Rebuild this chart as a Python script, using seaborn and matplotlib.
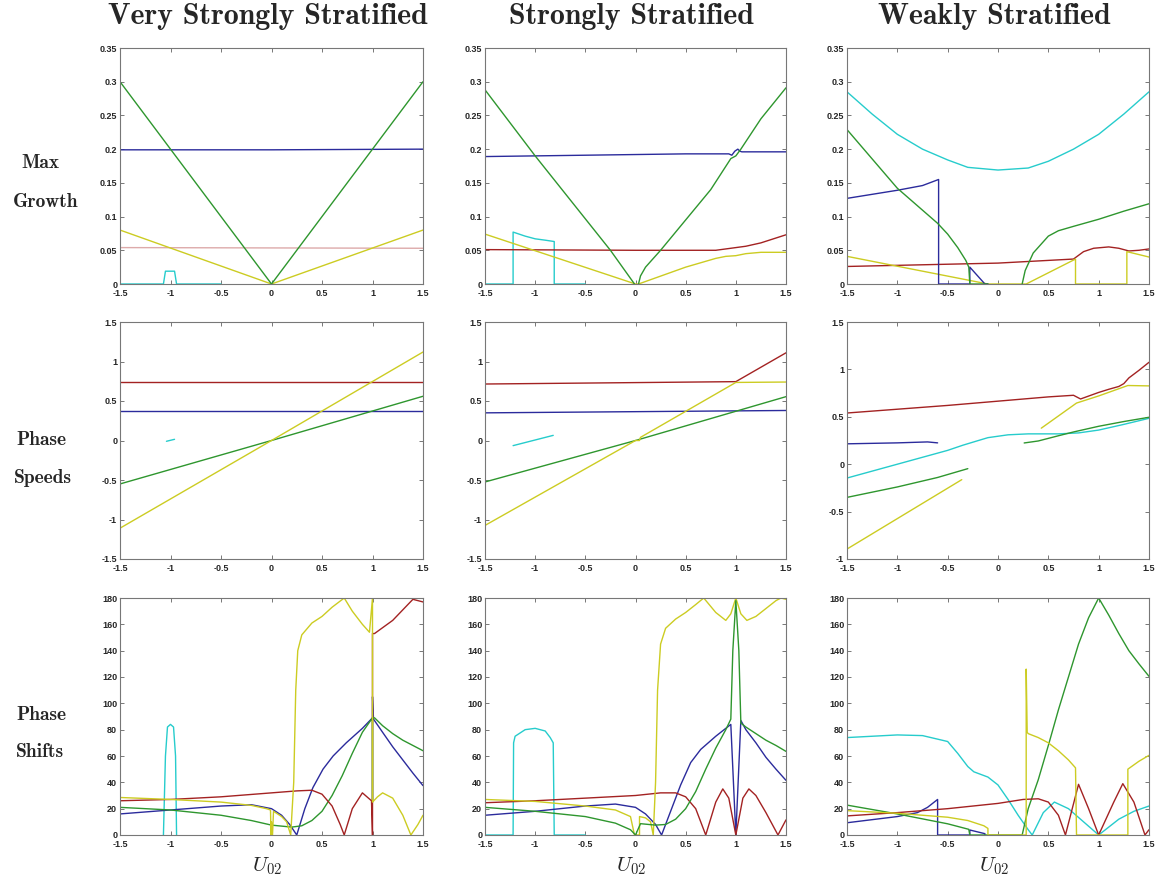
import numpy as np
import pandas as pd
import matplotlib
matplotlib.use("Agg")
import matplotlib.pyplot as plt
import seaborn as sns

# ---------------- colours ----------------
BLUE = "#2b2b9c"
GREEN = "#2e962e"
YELLOW = "#cccc22"
CYAN = "#26cccc"
RED = "#a32222"
PINK = "#ddaaaa"

col_titles = ["Very Strongly Stratified", "Strongly Stratified", "Weakly Stratified"]
row_labels = [("Max", "Growth"), ("Phase", "Speeds"), ("Phase", "Shifts")]
x_ticks = [-1.5, -1, -0.5, 0, 0.5, 1, 1.5]
x_ticklabels = ["-1.5", "-1", "-0.5", "0", "0.5", "1", "1.5"]
growth_ticks = [0, 0.05, 0.1, 0.15, 0.2, 0.25, 0.3, 0.35]
growth_ticklabels = ["0", "0.05", "0.1", "0.15", "0.2", "0.25", "0.3", "0.35"]
speed_ticks_a = [-1.5, -1, -0.5, 0, 0.5, 1, 1.5]
speed_ticklabels_a = ["-1.5", "-1", "-0.5", "0", "0.5", "1", "1.5"]
speed_ticks_b = [-1, -0.5, 0, 0.5, 1, 1.5]
speed_ticklabels_b = ["-1", "-0.5", "0", "0.5", "1", "1.5"]
shift_ticks = [0, 20, 40, 60, 80, 100, 120, 140, 160, 180]
shift_ticklabels = [str(v) for v in shift_ticks]

# ================= Row 1 : Max Growth =================
# Very strongly stratified
g1_green = [(-1.5, 0.30), (0, 0.0), (1.5, 0.30)]
g1_blue = [(-1.5, 0.199), (0, 0.199), (1.5, 0.2)]
g1_yellow = [(-1.5, 0.08), (0, 0.0), (1.5, 0.08)]
g1_pink = [(-1.5, 0.054), (1.5, 0.053)]
g1_cyan = [(-1.5, 0), (-1.07, 0), (-1.05, 0.019), (-0.96, 0.019), (-0.94, 0), (-0.5, 0)]

# Strongly stratified
g2_green_a = [(-1.5, 0.288), (-1.0, 0.19), (-0.25, 0.05), (-0.01, 0.0)]
g2_green_b = [(0.03, 0.0), (0.05, 0.012), (0.1, 0.025), (0.25, 0.05), (0.5, 0.095),
              (0.75, 0.14), (0.95, 0.186), (1.0, 0.19), (1.05, 0.2), (1.25, 0.245), (1.5, 0.291)]
g2_blue = [(-1.5, 0.189), (-0.5, 0.191), (0.5, 0.193), (0.93, 0.193), (0.96, 0.191),
           (0.99, 0.197), (1.02, 0.2), (1.04, 0.197), (1.06, 0.196), (1.5, 0.196)]
g2_red = [(-1.5, 0.051), (0, 0.05), (0.8, 0.05), (0.9, 0.052), (1.0, 0.054),
          (1.1, 0.056), (1.25, 0.061), (1.5, 0.073)]
g2_yellow = [(-1.5, 0.074), (0, 0.0), (0.03, 0.0), (0.5, 0.025), (0.8, 0.038),
             (0.9, 0.041), (1.0, 0.042), (1.1, 0.045), (1.25, 0.047), (1.5, 0.047)]
g2_cyan = [(-1.5, 0), (-1.22, 0), (-1.22, 0.077), (-1.1, 0.071), (-1.0, 0.067),
           (-0.9, 0.065), (-0.81, 0.063), (-0.81, 0), (-0.5, 0)]

# Weakly stratified
g3_cyan = [(-1.5, 0.285), (-1.25, 0.252), (-1.0, 0.222), (-0.75, 0.2), (-0.5, 0.184),
           (-0.3, 0.173), (0.0, 0.169), (0.3, 0.172), (0.5, 0.182), (0.75, 0.2),
           (1.0, 0.222), (1.25, 0.252), (1.5, 0.285)]
g3_green_a = [(-1.5, 0.229), (-1.0, 0.142), (-0.6, 0.09), (-0.5, 0.074), (-0.4, 0.054),
              (-0.32, 0.035), (-0.29, 0.025), (-0.28, 0.0), (-0.1, 0.0)]
g3_green_b = [(0.24, 0.0), (0.27, 0.02), (0.35, 0.046), (0.5, 0.071), (0.6, 0.079),
              (0.75, 0.0855), (1.0, 0.096), (1.25, 0.108), (1.5, 0.119)]
g3_blue = [(-1.5, 0.127), (-1.0, 0.139), (-0.75, 0.146), (-0.59, 0.155), (-0.59, 0.0),
           (-0.28, 0.0), (-0.28, 0.025), (-0.13, 0.0), (-0.1, 0.0)]
g3_red = [(-1.5, 0.026), (0.0, 0.031), (0.75, 0.037), (0.85, 0.048), (0.95, 0.053),
          (1.1, 0.055), (1.2, 0.053), (1.3, 0.049), (1.4, 0.05), (1.5, 0.052)]
g3_yellow = [(-1.5, 0.041), (-0.1, 0.0), (0.28, 0.0), (0.77, 0.037), (0.77, 0.0),
             (1.28, 0.0), (1.28, 0.048), (1.5, 0.04)]

# ================= Row 2 : Phase Speeds =================
s1_red = [(-1.5, 0.745), (1.5, 0.745)]
s1_blue = [(-1.5, 0.37), (1.5, 0.37)]
s1_yellow = [(-1.5, -1.11), (0, 0.0), (1.5, 1.12)]
s1_green = [(-1.5, -0.55), (0, 0.0), (1.5, 0.56)]
s1_cyan = [(-1.04, -0.01), (-0.96, 0.015)]

s2_red = [(-1.5, 0.715), (1.0, 0.745), (1.5, 1.11)]
s2_yellow = [(-1.5, -1.075), (0.0, 0.0), (0.04, 0.0), (0.05, 0.04), (1.0, 0.735), (1.5, 0.74)]
s2_green = [(-1.5, -0.525), (0, 0.0), (1.0, 0.37), (1.5, 0.555)]
s2_blue = [(-1.5, 0.35), (1.5, 0.38)]
s2_cyan = [(-1.22, -0.065), (-0.82, 0.065)]

s3_red = [(-1.5, 0.54), (-1.0, 0.58), (-0.5, 0.62), (0.0, 0.665), (0.5, 0.71), (0.75, 0.727),
          (0.82, 0.688), (1.0, 0.757), (1.1, 0.79), (1.2, 0.82), (1.25, 0.85), (1.3, 0.91),
          (1.4, 0.99), (1.5, 1.075)]
s3_yellow_a = [(-1.5, -0.895), (-0.36, -0.163)]
s3_yellow_b = [(0.43, 0.38), (0.78, 0.645), (1.0, 0.72), (1.29, 0.83), (1.5, 0.826)]
s3_green_a = [(-1.5, -0.35), (-1.0, -0.24), (-0.6, -0.14), (-0.3, -0.047)]
s3_green_b = [(0.26, 0.224), (0.4, 0.245), (0.6, 0.3), (0.75, 0.34), (1.0, 0.4),
              (1.25, 0.45), (1.5, 0.495)]
s3_cyan = [(-1.5, -0.146), (-1.0, 0.0), (-0.5, 0.146), (-0.35, 0.2), (-0.21, 0.245),
           (-0.1, 0.28), (0.1, 0.31), (0.3, 0.32), (0.6, 0.32), (0.8, 0.33), (1.0, 0.36),
           (1.25, 0.42), (1.5, 0.484)]
s3_blue = [(-1.5, 0.215), (-1.0, 0.225), (-0.7, 0.235), (-0.6, 0.225)]

# ================= Row 3 : Phase Shifts =================
p1_cyan = [(-1.07, 0), (-1.05, 60), (-1.03, 82), (-1.0, 84), (-0.97, 82), (-0.95, 60), (-0.94, 0)]
p1_red = [(-1.5, 26), (-1.0, 27), (-0.5, 29), (0.0, 32), (0.25, 33.5), (0.4, 34), (0.5, 31),
          (0.6, 22), (0.68, 8), (0.72, 0), (0.8, 20), (0.9, 32), (0.96, 28), (0.99, 26),
          (1.0, 0), (1.0, 153), (1.02, 153), (1.2, 163), (1.4, 179), (1.5, 177)]
p1_yellow = [(-1.5, 28.5), (-1.0, 27), (-0.5, 25), (-0.2, 22.5), (-0.05, 20), (-0.01, 19),
             (-0.005, 0), (0.0, 10), (0.01, 0), (0.02, 18), (0.1, 14), (0.15, 10), (0.19, 0),
             (0.22, 40), (0.24, 110), (0.26, 140), (0.3, 152), (0.4, 161), (0.5, 166),
             (0.6, 173), (0.72, 180), (0.8, 170), (0.9, 160), (0.97, 154), (1.0, 180),
             (1.0, 25), (1.05, 29), (1.1, 32), (1.2, 28), (1.3, 15), (1.38, 0), (1.45, 8),
             (1.5, 15)]
p1_blue = [(-1.5, 16), (-1.0, 19), (-0.5, 22), (-0.2, 23), (0.0, 20), (0.1, 15), (0.18, 8),
           (0.25, 0), (0.33, 20), (0.41, 36), (0.51, 50), (0.61, 60), (0.74, 70), (0.9, 81),
           (1.0, 89), (1.0, 105), (1.01, 88), (1.1, 78), (1.2, 67), (1.3, 57), (1.4, 47),
           (1.5, 37.5)]
p1_green = [(-1.5, 21), (-1.0, 19), (-0.5, 15), (-0.2, 11), (0.0, 7.5), (0.2, 6), (0.3, 7),
            (0.4, 11), (0.5, 18), (0.6, 30), (0.7, 45), (0.8, 62), (0.9, 78), (1.0, 89),
            (1.0, 25), (1.0, 89), (1.02, 89), (1.1, 83), (1.2, 77), (1.3, 72), (1.4, 68),
            (1.5, 64)]

p2_cyan = [(-1.5, 0), (-1.22, 0), (-1.215, 70), (-1.2, 75), (-1.1, 80), (-1.0, 81),
           (-0.9, 79), (-0.85, 74), (-0.82, 70), (-0.81, 0), (-0.5, 0)]
p2_red = [(-1.5, 24.5), (-1.0, 26), (-0.5, 28), (0.0, 30), (0.25, 32), (0.4, 32), (0.5, 29),
          (0.6, 20), (0.7, 0), (0.8, 25), (0.87, 35), (0.93, 28), (1.0, 0), (1.07, 28),
          (1.13, 35), (1.2, 30), (1.3, 17), (1.42, 0), (1.5, 11.5)]
p2_yellow = [(-1.5, 27), (-1.0, 25.5), (-0.5, 22), (-0.2, 19), (-0.05, 14), (-0.01, 0),
             (0.04, 0), (0.04, 14), (0.1, 13), (0.15, 10), (0.177, 0), (0.2, 40), (0.22, 110),
             (0.25, 145), (0.3, 157), (0.4, 164), (0.5, 169), (0.6, 175), (0.68, 180),
             (0.8, 169), (0.9, 163), (0.95, 168), (1.0, 180), (1.05, 168), (1.11, 163),
             (1.2, 166), (1.3, 172), (1.4, 178), (1.45, 180), (1.5, 179)]
p2_green = [(-1.5, 21), (-1.0, 18), (-0.5, 14), (-0.2, 9), (-0.05, 4), (0.0, 0), (0.05, 8.6),
            (0.2, 7.5), (0.3, 8), (0.4, 12), (0.5, 20), (0.6, 33), (0.7, 50), (0.8, 66),
            (0.9, 80), (0.95, 88), (0.97, 140), (1.0, 178), (1.03, 140), (1.05, 85),
            (1.1, 82), (1.2, 77), (1.3, 72), (1.4, 68), (1.5, 63.5)]
p2_blue = [(-1.5, 15), (-1.0, 18), (-0.5, 22), (-0.2, 23.5), (0.0, 21), (0.1, 16), (0.2, 8),
           (0.26, 0), (0.35, 18), (0.45, 38), (0.55, 55), (0.65, 65), (0.8, 75), (0.95, 84),
           (1.0, 0), (1.05, 87), (1.1, 80), (1.2, 70), (1.3, 59), (1.4, 50), (1.5, 41.5)]

p3_cyan = [(-1.5, 74), (-1.0, 76), (-0.75, 75.5), (-0.5, 71), (-0.4, 62), (-0.3, 52),
           (-0.24, 48), (-0.1, 44), (0.0, 38), (0.1, 27), (0.2, 15), (0.3, 4), (0.34, 0),
           (0.45, 17), (0.56, 25), (0.7, 20), (0.85, 10), (1.0, 0), (1.2, 12), (1.35, 18),
           (1.5, 22)]
p3_red = [(-1.5, 14.5), (-1.0, 17), (-0.5, 20), (0.0, 24), (0.25, 27), (0.4, 27.5), (0.5, 25),
          (0.6, 15), (0.67, 0), (0.8, 38.5), (0.9, 20), (1.0, 0), (1.15, 25), (1.24, 39),
          (1.35, 25), (1.46, 0), (1.5, 4)]
p3_yellow = [(-1.5, 18.5), (-1.0, 16.5), (-0.5, 13.5), (-0.3, 11), (-0.14, 7), (-0.1, 5),
             (-0.1, 0), (0.28, 0), (0.28, 126), (0.29, 78), (0.3, 77), (0.4, 74), (0.5, 70),
             (0.6, 64), (0.7, 57), (0.77, 51), (0.78, 0), (1.29, 0), (1.29, 50), (1.4, 56),
             (1.5, 60.5)]
p3_green = [(-1.5, 22.7), (-1.0, 16), (-0.5, 8.5), (-0.29, 4.3), (-0.28, 0), (0.24, 0),
            (0.3, 20), (0.4, 42), (0.5, 68), (0.6, 95), (0.7, 120), (0.8, 145), (0.9, 165),
            (1.0, 180), (1.1, 167), (1.2, 153), (1.3, 140), (1.4, 130), (1.5, 120.5)]
p3_blue = [(-1.5, 9.3), (-1.0, 14), (-0.8, 17), (-0.7, 21), (-0.6, 27), (-0.6, 0),
           (-0.28, 0), (-0.28, 3.8), (-0.13, 1), (-0.13, 0)]

panels = [
    [[(g1_pink, PINK), (g1_cyan, CYAN), (g1_yellow, YELLOW), (g1_blue, BLUE), (g1_green, GREEN)],
     [(g2_cyan, CYAN), (g2_red, RED), (g2_yellow, YELLOW), (g2_blue, BLUE),
      (g2_green_a, GREEN), (g2_green_b, GREEN)],
     [(g3_cyan, CYAN), (g3_red, RED), (g3_yellow, YELLOW), (g3_blue, BLUE),
      (g3_green_a, GREEN), (g3_green_b, GREEN)]],
    [[(s1_cyan, CYAN), (s1_red, RED), (s1_blue, BLUE), (s1_green, GREEN), (s1_yellow, YELLOW)],
     [(s2_cyan, CYAN), (s2_red, RED), (s2_blue, BLUE), (s2_green, GREEN), (s2_yellow, YELLOW)],
     [(s3_cyan, CYAN), (s3_red, RED), (s3_blue, BLUE), (s3_green_a, GREEN), (s3_green_b, GREEN),
      (s3_yellow_a, YELLOW), (s3_yellow_b, YELLOW)]],
    [[(p1_cyan, CYAN), (p1_blue, BLUE), (p1_green, GREEN), (p1_red, RED), (p1_yellow, YELLOW)],
     [(p2_cyan, CYAN), (p2_blue, BLUE), (p2_red, RED), (p2_yellow, YELLOW), (p2_green, GREEN)],
     [(p3_cyan, CYAN), (p3_blue, BLUE), (p3_green, GREEN), (p3_red, RED), (p3_yellow, YELLOW)]],
]

sns.set_theme(style="white")
plt.rcParams["font.family"] = ["Liberation Sans", "DejaVu Sans"]
plt.rcParams["axes.unicode_minus"] = False
plt.rcParams["mathtext.fontset"] = "cm"

W, H = 1159, 882
fig = plt.figure(figsize=(W / 100, H / 100), dpi=100)

col_left = [120, 485, 847]
col_right = [423, 786, 1149]
row_top = [48, 322, 598]
row_bot = [284, 559, 835]

for r in range(3):
    for c in range(3):
        l, rr = col_left[c], col_right[c]
        t, b = row_top[r], row_bot[r]
        ax = fig.add_axes([l / W, 1 - b / H, (rr - l) / W, (b - t) / H])
        for pts, color in panels[r][c]:
            df = pd.DataFrame(pts, columns=["x", "y"])
            sns.lineplot(data=df, x="x", y="y", estimator=None, sort=False,
                         color=color, linewidth=1.0, ax=ax)
        ax.set_xlim(-1.5, 1.5)
        ax.set_xticks(x_ticks)
        ax.set_xticklabels(x_ticklabels)
        if r == 0:
            ax.set_ylim(0, 0.35)
            ax.set_yticks(growth_ticks)
            ax.set_yticklabels(growth_ticklabels)
        elif r == 1:
            if c < 2:
                ax.set_ylim(-1.5, 1.5)
                ax.set_yticks(speed_ticks_a)
                ax.set_yticklabels(speed_ticklabels_a)
            else:
                ax.set_ylim(-1, 1.5)
                ax.set_yticks(speed_ticks_b)
                ax.set_yticklabels(speed_ticklabels_b)
        else:
            ax.set_ylim(0, 180)
            ax.set_yticks(shift_ticks)
            ax.set_yticklabels(shift_ticklabels)
        ax.set_xlabel("")
        ax.set_ylabel("")
        for sp in ax.spines.values():
            sp.set_visible(True)
            sp.set_color("#777777")
            sp.set_linewidth(0.8)
        ax.tick_params(direction="in", length=3, width=0.7, color="#777777",
                       top=True, right=True, bottom=True, left=True,
                       labelsize=6.5)
        ax.tick_params(axis="x", pad=3.5)
        ax.tick_params(axis="y", pad=2)
        for lab in ax.get_xticklabels() + ax.get_yticklabels():
            lab.set_fontweight("bold")

# column titles and x labels
for c, title in enumerate(col_titles):
    cx = (col_left[c] + col_right[c]) / 2 - 4
    fig.text(cx / W, 1 - 16 / H, title, ha="center", va="center",
             family="cmb10", fontsize=21.5)
    fig.text(cx / W, 1 - 866 / H, r"$U_{02}$", ha="center", va="center", fontsize=15)

# row labels
row_y = [(163, 202), (440, 478), (715, 752)]
row_x = [(40, 46), (41, 43), (41, 40)]
for r in range(3):
    for k in range(2):
        fig.text(row_x[r][k] / W, 1 - row_y[r][k] / H, row_labels[r][k],
                 ha="center", va="center", family="cmb10", fontsize=14)

fig.savefig("out.png", dpi=100)
